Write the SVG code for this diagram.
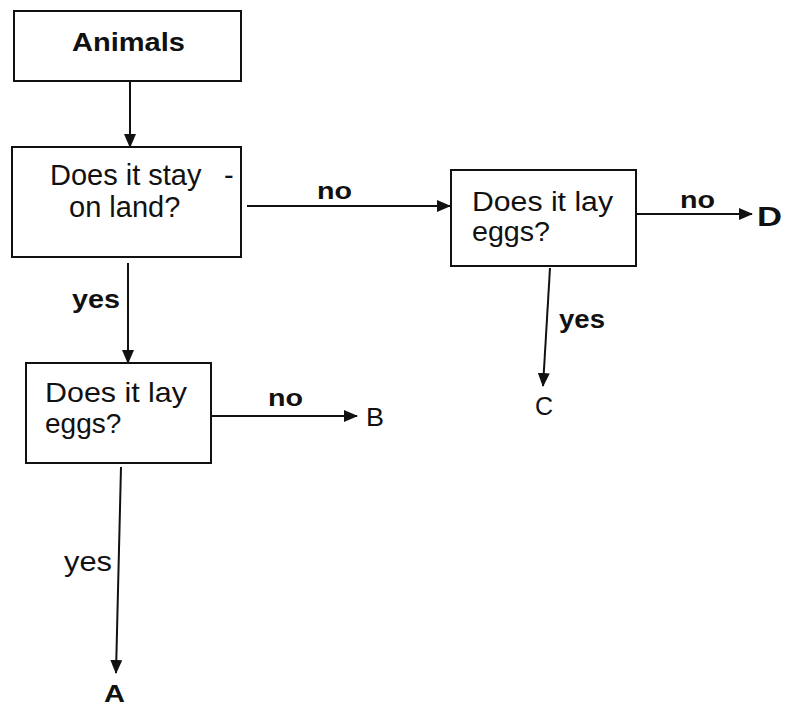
<svg xmlns="http://www.w3.org/2000/svg" width="787" height="706" viewBox="0 0 787 706">
<style>
  .box { fill: #fff; stroke: #111; stroke-width: 2; }
  .edge { fill: none; stroke: #111; stroke-width: 2; }
  .t { font-family: "Liberation Sans", Arial, sans-serif; fill: #111; }
  .r { font-size: 29px; }
  .b { font-weight: bold; }
</style>
<defs>
  <marker id="ah" markerUnits="userSpaceOnUse" markerWidth="14" markerHeight="12" refX="13" refY="6" orient="auto">
    <path d="M0,0 L14,6 L0,12 Z" fill="#111"/>
  </marker>
</defs>
<rect width="787" height="706" fill="#fff"/>
<g id="connectors">
  <line class="edge" x1="130" y1="82" x2="130" y2="147" marker-end="url(#ah)"/>
  <line class="edge" x1="247" y1="206" x2="450" y2="206" marker-end="url(#ah)"/>
  <line class="edge" x1="637" y1="214" x2="752" y2="214" marker-end="url(#ah)"/>
  <line class="edge" x1="128" y1="263" x2="128" y2="363" marker-end="url(#ah)"/>
  <line class="edge" x1="211" y1="416" x2="357" y2="416" marker-end="url(#ah)"/>
  <line class="edge" x1="121" y1="467" x2="116" y2="673" marker-end="url(#ah)"/>
  <line class="edge" x1="550" y1="268" x2="543" y2="386" marker-end="url(#ah)"/>
  <text class="t b" x="317" y="199" font-size="23" textLength="35" lengthAdjust="spacingAndGlyphs">no</text>
  <text class="t b" x="680" y="208" font-size="23" textLength="35" lengthAdjust="spacingAndGlyphs">no</text>
  <text class="t b" x="268" y="406" font-size="23" textLength="35" lengthAdjust="spacingAndGlyphs">no</text>
  <text class="t b" x="72" y="308" font-size="25" textLength="48" lengthAdjust="spacingAndGlyphs">yes</text>
  <text class="t b" x="559" y="328" font-size="25" textLength="46" lengthAdjust="spacingAndGlyphs">yes</text>
  <text class="t" x="64" y="571" font-size="27" textLength="48" lengthAdjust="spacingAndGlyphs">yes</text>
</g>
<g id="animals">
  <rect class="box" x="14" y="11" width="227" height="70"/>
  <text class="t b" x="72" y="51" font-size="26" textLength="113" lengthAdjust="spacingAndGlyphs">Animals</text>
</g>
<g id="stay-on-land">
  <rect class="box" x="12" y="147" width="229" height="110"/>
  <text class="t r" x="50" y="185">Does it stay <tspan x="224">-</tspan></text>
  <text class="t r" x="69" y="217">on land?</text>
</g>
<g id="lay-eggs-water">
  <rect class="box" x="451" y="170" width="185" height="96"/>
  <text class="t" x="472" y="211" font-size="27" textLength="141" lengthAdjust="spacingAndGlyphs">Does it lay</text>
  <text class="t" x="472" y="241" font-size="27" textLength="78" lengthAdjust="spacingAndGlyphs">eggs?</text>
</g>
<g id="lay-eggs-land">
  <rect class="box" x="26" y="363" width="185" height="100"/>
  <text class="t" x="45" y="402" font-size="28" textLength="142" lengthAdjust="spacingAndGlyphs">Does it lay</text>
  <text class="t" x="45" y="433" font-size="28">eggs?</text>
</g>
<g id="A"><text class="t b" x="104" y="702" font-size="24" textLength="21" lengthAdjust="spacingAndGlyphs">A</text></g>
<g id="B"><text class="t" x="366" y="426" font-size="25" textLength="18" lengthAdjust="spacingAndGlyphs">B</text></g>
<g id="C"><text class="t" x="535" y="415" font-size="25">C</text></g>
<g id="D"><text class="t b" x="757" y="226" font-size="27" textLength="25" lengthAdjust="spacingAndGlyphs">D</text></g>
</svg>
